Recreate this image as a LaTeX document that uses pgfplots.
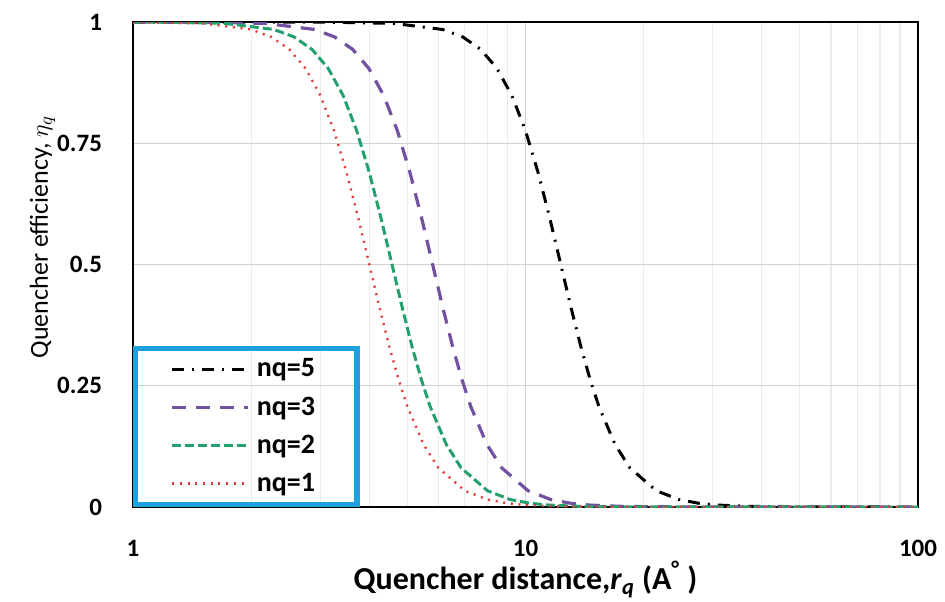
\documentclass[border=0pt]{standalone}
\usepackage{fontspec}
\setmainfont{Carlito}
\usepackage{pgfplots}
\pgfplotsset{compat=1.18}
\definecolor{LegCyan}{HTML}{1BA1DB}
\definecolor{QPurple}{HTML}{7251A0}
\definecolor{QGreen}{HTML}{23A06C}
\definecolor{QRed}{HTML}{E23B3B}

\begin{document}
\begin{tikzpicture}
\useasboundingbox (-66.5pt,-47pt) rectangle (406pt,253.5pt);
\begin{axis}[
 at={(0,0)},anchor=south west,
 scale only axis,width=392.5pt,height=242.5pt,
 xmode=log,xmin=1,xmax=100,ymin=0,ymax=1,
 xtick={1,10,100},xticklabels={1,10,100},
 ytick={0,0.25,0.5,0.75,1},yticklabels={0,0.25,0.5,0.75,1},
 /pgf/number format/assume math mode=true,
 ticklabel style={font=\bfseries\fontsize{12.5}{14}\selectfont},
 yticklabel style={xshift=-12pt},
 xticklabel style={yshift=-13pt},
 major tick length=0pt,minor tick length=0pt,
 xmajorgrids,xminorgrids,ymajorgrids,
 major grid style={color=black!18,line width=0.6pt},
 minor grid style={color=black!8,line width=0.6pt},
 axis line style={black,line width=0.8pt},
 xlabel={Quencher distance,\textit{r}\textsubscript{\textit{q}} (A\textsuperscript{°} )},
 xlabel style={font=\bfseries\fontsize{16}{18}\selectfont,at={(axis description cs:0.5,0)},anchor=base,yshift=-41pt},
 ylabel={Quencher efficiency, $\eta_q$},
 ylabel style={font=\fontsize{13}{15}\selectfont,at={(axis description cs:-0.1083,0.5567)},anchor=base},
 legend style={at={(axis description cs:0,0)},anchor=south west,draw=LegCyan,line width=2.6pt,fill=none,
   inner xsep=17.5pt,inner ysep=1pt,row sep=0pt,
   font=\bfseries\fontsize{14}{16}\selectfont,
   nodes={inner xsep=3.5pt,inner ysep=2pt,minimum height=19pt}},
 legend image code/.code={\draw[#1] (0pt,0pt) -- (38pt,0pt);},
]
\addplot[black,line width=1.5pt,dash pattern=on 6pt off 4pt on 1pt off 4pt] coordinates {
(1,1.0)(3.075,0.9998)(4.6125,0.9972)(6.15,0.9846)(6.919,0.9693)(7.6875,0.9438)(8.456,0.9045)(9.225,0.8489)
(9.994,0.7766)(10.76,0.6902)(11.53,0.5956)(12.3,0.5)(13.07,0.4101)(13.84,0.3303)(14.61,0.2629)(15.375,0.2077)
(16.91,0.1289)(18.45,0.0807)(21.53,0.0336)(24.6,0.0154)(27.68,0.0076)(30.75,0.0041)(36.9,0.0014)(46.1,0.0004)(61.5,0.0001)(100,0)};
\addlegendentry{nq=5}
\addplot[QPurple,line width=1.6pt,dash pattern=on 7pt off 5pt] coordinates {
(1,1.0)(1.45,0.9998)(2.175,0.9972)(2.9,0.9846)(3.2625,0.9693)(3.625,0.9438)(3.9875,0.9045)(4.35,0.8489)
(4.7125,0.7766)(5.075,0.6902)(5.4375,0.5956)(5.8,0.5)(6.1625,0.4101)(6.525,0.3303)(6.8875,0.2629)(7.25,0.2077)
(7.975,0.1289)(8.7,0.0807)(10.15,0.0336)(11.6,0.0154)(13.05,0.0076)(14.5,0.0041)(17.4,0.0014)(21.75,0.0004)(29,0.0001)(100,0)};
\addlegendentry{nq=3}
\addplot[QGreen,line width=1.5pt,dash pattern=on 4.5pt off 2pt] coordinates {
(1,0.9999)(1.143,0.9998)(1.714,0.9972)(2.285,0.9846)(2.571,0.9693)(2.856,0.9438)(3.142,0.9045)(3.428,0.8489)
(3.713,0.7766)(3.999,0.6902)(4.284,0.5956)(4.57,0.5)(4.856,0.4101)(5.141,0.3303)(5.427,0.2629)(5.713,0.2077)
(6.284,0.1289)(6.855,0.0807)(7.998,0.0336)(9.14,0.0154)(10.28,0.0076)(11.43,0.0041)(13.71,0.0014)(17.14,0.0004)(22.85,0.0001)(100,0)};
\addlegendentry{nq=2}
\addplot[QRed,line width=1.2pt,dash pattern=on 1pt off 2.85pt] coordinates {
(1,0.9998)(1.5,0.9972)(2,0.9846)(2.25,0.9693)(2.5,0.9438)(2.75,0.9045)(3,0.8489)
(3.25,0.7766)(3.5,0.6902)(3.75,0.5956)(4,0.5)(4.25,0.4101)(4.5,0.3303)(4.75,0.2629)(5,0.2077)
(5.5,0.1289)(6,0.0807)(7,0.0336)(8,0.0154)(9,0.0076)(10,0.0041)(12,0.0014)(15,0.0004)(20,0.0001)(100,0)};
\addlegendentry{nq=1}
\end{axis}
\end{tikzpicture}
\end{document}
